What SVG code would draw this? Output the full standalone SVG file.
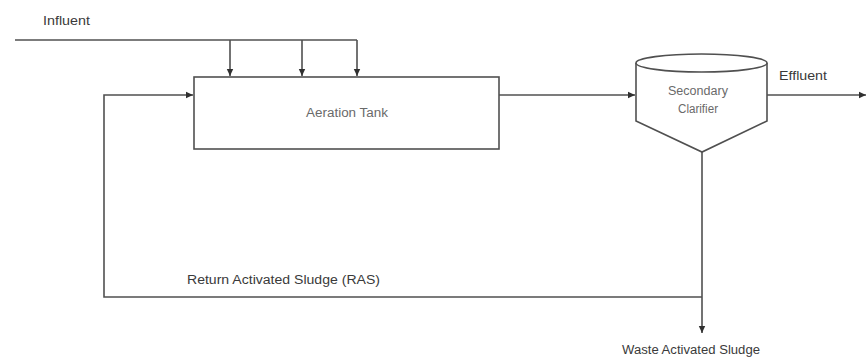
<svg xmlns="http://www.w3.org/2000/svg" width="866" height="362" viewBox="0 0 866 362">
<style>
.ln{fill:none;stroke:#505050;stroke-width:1.6}
.sh{fill:#fff;stroke:#505050;stroke-width:1.6}
.t{font-family:"Liberation Sans",Arial,sans-serif;font-size:12.5px;fill:#3a3a3a}
.tl{fill:#6a6a6a}
</style>
<defs>
<marker id="ah" markerWidth="8" markerHeight="8" refX="7" refY="4" orient="auto" markerUnits="userSpaceOnUse">
<path d="M0,0.8 L7,4 L0,7.2 Z" fill="#303030"/>
</marker>
</defs>
<rect width="866" height="362" fill="#fff"/>
<g id="aeration-tank">
<rect class="sh" x="194" y="77" width="305" height="72"/>
<text class="t tl" x="347" y="117" text-anchor="middle" textLength="82" lengthAdjust="spacingAndGlyphs">Aeration Tank</text>
</g>
<g id="secondary-clarifier">
<path class="sh" d="M636,63 L636,121 L702,152 L767,121 L767,63"/>
<ellipse class="sh" cx="701.5" cy="63" rx="65.5" ry="9"/>
<text class="t tl" x="698" y="95" text-anchor="middle" textLength="60" lengthAdjust="spacingAndGlyphs">Secondary</text>
<text class="t tl" x="698" y="113" text-anchor="middle" textLength="40" lengthAdjust="spacingAndGlyphs">Clarifier</text>
</g>
<g id="connectors">
<polyline class="ln" points="15,40 357,40"/>
<line class="ln" x1="230" y1="40" x2="230" y2="76" marker-end="url(#ah)"/>
<line class="ln" x1="302" y1="40" x2="302" y2="76" marker-end="url(#ah)"/>
<line class="ln" x1="357" y1="40" x2="357" y2="76" marker-end="url(#ah)"/>
<line class="ln" x1="499" y1="95" x2="635" y2="95" marker-end="url(#ah)"/>
<line class="ln" x1="767" y1="95" x2="866" y2="95" marker-end="url(#ah)"/>
<polyline class="ln" points="702,297 104,297 104,95 193,95" marker-end="url(#ah)"/>
<line class="ln" x1="702" y1="152" x2="702" y2="333" marker-end="url(#ah)"/>
</g>
<g id="labels">
<text class="t" x="43" y="25" textLength="47" lengthAdjust="spacingAndGlyphs">Influent</text>
<text class="t" x="779" y="80" textLength="48" lengthAdjust="spacingAndGlyphs">Effluent</text>
<text class="t" x="187" y="284" textLength="193" lengthAdjust="spacingAndGlyphs">Return Activated Sludge (RAS)</text>
<text class="t" x="622" y="354" textLength="138" lengthAdjust="spacingAndGlyphs">Waste Activated Sludge</text>
</g>
</svg>
